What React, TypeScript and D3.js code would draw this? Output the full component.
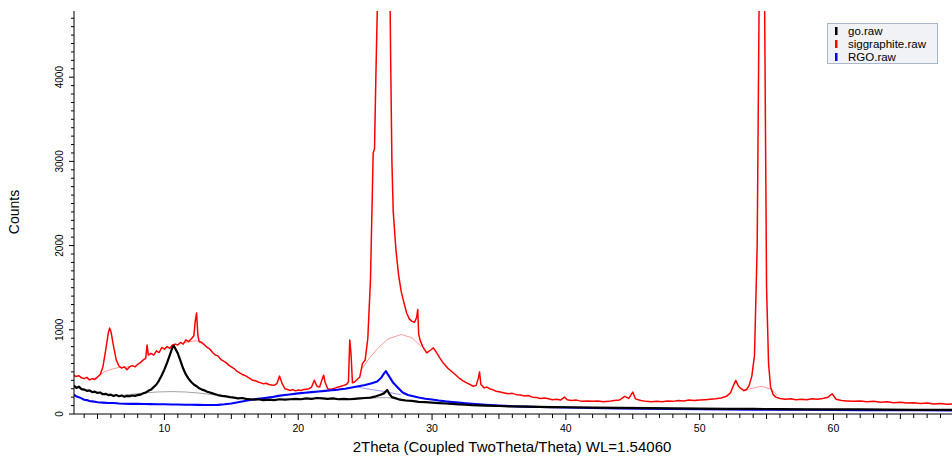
import React from "react";
import * as d3 from "d3";

const W = 952;
const H = 457;

// 2Theta (deg), Counts
const siggraphite: [number, number][] = [
  [3.24, 460], [3.4, 445], [3.6, 455], [3.8, 430], [4.0, 420], [4.2, 435], [4.4, 405], [4.6, 420], [4.8, 410],
  [5.0, 440], [5.2, 470], [5.4, 560], [5.6, 750], [5.8, 960], [5.9, 1020], [6.0, 980], [6.2, 800], [6.4, 640],
  [6.6, 570], [6.8, 545], [7.0, 560], [7.2, 525], [7.4, 560], [7.6, 575], [7.8, 560], [8.0, 590], [8.2, 610],
  [8.4, 640], [8.6, 660], [8.7, 820], [8.8, 700], [9.0, 720], [9.2, 700], [9.4, 750], [9.6, 730], [9.8, 790],
  [10.0, 770], [10.2, 800], [10.4, 780], [10.6, 820], [10.8, 830], [11.0, 820], [11.2, 850], [11.4, 830],
  [11.6, 880], [11.8, 860], [12.0, 890], [12.2, 930], [12.3, 1100], [12.4, 1200], [12.5, 930], [12.6, 860],
  [12.8, 850], [13.0, 820], [13.2, 790], [13.4, 770], [13.6, 730], [13.8, 700], [14.0, 690], [14.2, 650],
  [14.4, 630], [14.6, 610], [14.8, 580], [15.0, 560], [15.2, 540], [15.4, 510], [15.6, 490], [15.8, 470],
  [16.0, 460], [16.2, 440], [16.4, 420], [16.6, 400], [16.8, 395], [17.0, 380], [17.2, 370], [17.4, 360],
  [17.6, 365], [17.8, 350], [18.0, 345], [18.2, 340], [18.4, 360], [18.6, 450], [18.8, 360], [19.0, 300],
  [19.2, 290], [19.4, 280], [19.6, 290], [19.8, 275], [20.0, 285], [20.2, 280], [20.4, 290], [20.6, 295],
  [20.8, 300], [21.0, 320], [21.2, 400], [21.4, 330], [21.6, 320], [21.8, 420], [21.9, 460], [22.0, 380],
  [22.2, 300], [22.4, 290], [22.6, 300], [22.8, 310], [23.0, 320], [23.2, 330], [23.4, 340], [23.6, 350],
  [23.75, 380], [23.85, 880], [23.95, 700], [24.05, 370], [24.2, 380], [24.4, 410], [24.6, 440], [24.8, 600],
  [25.0, 640], [25.2, 900], [25.4, 1600], [25.6, 3100], [25.7, 3150], [25.8, 4000], [26.0, 5500],
  [26.2, 9000], [26.4, 12000], [26.6, 10000], [26.8, 6000], [26.9, 4300], [27.0, 3000], [27.1, 2400],
  [27.3, 1950], [27.5, 1650], [27.7, 1450], [27.9, 1320], [28.1, 1200], [28.3, 1130], [28.5, 1100],
  [28.7, 1090], [28.85, 1150], [28.93, 1240], [29.0, 950], [29.1, 880], [29.3, 800], [29.6, 725],
  [29.9, 760], [30.1, 785], [30.35, 725], [30.6, 660], [30.84, 605], [31.2, 540], [31.6, 487], [32.0, 430],
  [32.34, 390], [32.7, 360], [33.08, 330], [33.3, 340], [33.45, 420], [33.55, 500], [33.65, 350],
  [33.9, 310], [34.1, 320], [34.3, 300], [34.5, 290], [34.8, 270], [35.1, 260], [35.4, 250], [35.7, 240],
  [36.0, 245], [36.3, 230], [36.6, 225], [36.9, 215], [37.2, 220], [37.5, 200], [37.8, 195], [38.1, 185],
  [38.4, 190], [38.7, 180], [39.0, 170], [39.3, 175], [39.6, 165], [39.9, 200], [40.1, 170], [40.4, 160],
  [40.8, 165], [41.2, 150], [41.6, 155], [42.0, 150], [42.4, 155], [42.8, 145], [43.2, 150], [43.6, 160],
  [44.0, 165], [44.4, 210], [44.7, 185], [45.0, 260], [45.2, 180], [45.6, 160], [46.0, 150], [46.4, 145],
  [46.8, 150], [47.2, 145], [47.6, 155], [48.0, 150], [48.4, 160], [48.8, 155], [49.2, 165], [49.6, 160],
  [50.0, 165], [50.4, 170], [50.8, 175], [51.2, 180], [51.6, 190], [52.0, 210], [52.3, 250], [52.5, 330],
  [52.7, 400], [52.9, 330], [53.1, 300], [53.3, 280], [53.5, 290], [53.7, 340], [53.9, 450], [54.1, 700],
  [54.3, 2000], [54.45, 5000], [54.65, 9000], [54.85, 5000], [55.0, 1500], [55.15, 600], [55.3, 320],
  [55.5, 230], [55.7, 200], [56.0, 185], [56.4, 175], [56.8, 180], [57.2, 170], [57.6, 175], [58.0, 170],
  [58.4, 180], [58.8, 175], [59.2, 185], [59.6, 200], [59.9, 240], [60.2, 175], [60.6, 160], [61.0, 155],
  [61.5, 150], [62.0, 155], [62.5, 145], [63.0, 150], [63.5, 140], [64.0, 145], [64.5, 135], [65.0, 140],
  [65.5, 130], [66.0, 135], [66.5, 125], [67.0, 130], [67.5, 120], [68.0, 125], [68.5, 115], [68.86, 120],
];

const goRaw: [number, number][] = [
  [3.24, 340], [3.4, 310], [3.6, 325], [3.8, 295], [4.0, 290], [4.2, 275], [4.4, 280], [4.6, 260], [4.8, 265],
  [5.0, 250], [5.2, 255], [5.4, 235], [5.6, 240], [5.8, 225], [6.0, 230], [6.2, 215], [6.4, 225], [6.6, 210],
  [6.8, 220], [7.0, 205], [7.2, 215], [7.4, 210], [7.6, 220], [7.8, 215], [8.0, 225], [8.2, 230], [8.4, 245],
  [8.6, 255], [8.8, 275], [9.0, 290], [9.2, 320], [9.4, 350], [9.6, 400], [9.8, 460], [10.0, 530], [10.2, 610],
  [10.4, 700], [10.6, 790], [10.7, 810], [10.8, 780], [11.0, 720], [11.2, 630], [11.4, 540], [11.6, 470],
  [11.8, 420], [12.0, 380], [12.2, 350], [12.4, 330], [12.6, 305], [12.8, 290], [13.0, 280], [13.2, 265],
  [13.4, 255], [13.6, 245], [13.8, 235], [14.0, 225], [14.3, 215], [14.6, 210], [14.9, 200], [15.2, 195],
  [15.5, 185], [15.8, 190], [16.1, 180], [16.4, 175], [16.7, 170], [17.0, 175], [17.4, 165], [17.8, 170],
  [18.2, 165], [18.6, 175], [19.0, 170], [19.4, 175], [19.8, 180], [20.2, 175], [20.6, 185], [21.0, 180],
  [21.4, 190], [21.8, 185], [22.2, 180], [22.6, 185], [23.0, 175], [23.4, 180], [23.8, 175], [24.2, 180],
  [24.6, 185], [25.0, 190], [25.4, 195], [25.8, 210], [26.1, 225], [26.4, 245], [26.65, 285], [26.8, 240],
  [27.0, 200], [27.3, 185], [27.6, 170], [28.0, 160], [28.5, 155], [29.0, 145], [29.5, 140], [30.0, 135],
  [30.5, 130], [31.0, 125], [31.5, 120], [32.0, 115], [32.5, 110], [33.0, 105], [34, 100], [35, 95], [36, 90],
  [37, 88], [38, 85], [39, 82], [40, 80], [42, 76], [44, 72], [46, 70], [48, 66], [50, 64], [52, 62], [54, 60],
  [56, 58], [58, 56], [60, 55], [62, 54], [64, 52], [66, 50], [68.86, 48],
];

const rgoRaw: [number, number][] = [
  [3.24, 230], [3.4, 210], [3.6, 200], [3.8, 185], [4.0, 170], [4.2, 165], [4.4, 155], [4.6, 150], [4.8, 145],
  [5.0, 140], [5.4, 135], [5.8, 130], [6.2, 130], [6.6, 125], [7.0, 122], [7.5, 120], [8.0, 120], [8.5, 118],
  [9.0, 117], [9.5, 115], [10, 115], [10.5, 113], [11, 112], [11.5, 110], [12, 110], [12.5, 108], [13, 106],
  [13.5, 106], [14, 108], [14.5, 115], [15, 125], [15.5, 140], [16, 155], [16.5, 170], [17, 180], [17.5, 190],
  [18, 200], [18.5, 215], [19, 225], [19.5, 235], [20, 245], [20.5, 252], [21, 260], [21.5, 268], [22, 275],
  [22.5, 283], [23, 290], [23.5, 300], [24, 315], [24.5, 330], [25, 345], [25.5, 365], [25.9, 385],
  [26.2, 430], [26.4, 480], [26.55, 510], [26.7, 470], [26.9, 420], [27.1, 370], [27.4, 320], [27.8, 255],
  [28.2, 225], [28.6, 210], [29.0, 195], [29.5, 182], [30.0, 172], [30.5, 160], [31.0, 150], [31.5, 142],
  [32.0, 135], [32.5, 128], [33, 122], [34, 110], [35, 100], [36, 92], [37, 88], [38, 84], [40, 78], [42, 72],
  [44, 66], [46, 62], [48, 60], [50, 58], [52, 55], [54, 52], [56, 50], [58, 50], [60, 48], [62, 46], [64, 45],
  [66, 44], [68.86, 42],
];

// fitted background curves (thin)
const sigBg1: [number, number][] = [[4.6, 415], [5.0, 440], [5.5, 500], [6.0, 530], [6.5, 550], [7.0, 555], [7.5, 565]];
const sigBg2: [number, number][] = [[11.5, 850], [12.4, 870], [13.2, 800]];
const sigBg3: [number, number][] = [[24.7, 520], [25.3, 660], [26.0, 790], [26.7, 890], [27.7, 945], [28.5, 905], [29.2, 800]];
const sigBg4: [number, number][] = [[53.2, 270], [53.8, 300], [54.65, 330], [55.4, 290], [55.8, 220]];
const goBg1: [number, number][] = [[6.5, 215], [7.5, 232], [8.5, 250], [9.5, 262], [10.5, 266], [11.5, 262], [12.5, 250], [13.5, 232], [14.5, 210], [15.5, 190]];
const goBg2: [number, number][] = [[24.5, 182], [25.5, 190], [26.6, 195], [27.5, 180], [28.5, 158]];
const rgoBg1: [number, number][] = [[24.4, 320], [25.5, 290], [26.5, 265], [27.7, 228]];

const xLabelTicks = [10, 20, 30, 40, 50, 60];
const yLabelTicks = [0, 1000, 2000, 3000, 4000];
const legendNames = ["go.raw", "siggraphite.raw", "RGO.raw"];
const legendColors = ["#000000", "#ff0000", "#0000ff"];

const left = 74, right = 952, top = 11, bottom = 414;

export default function App() {
  const x = d3.scaleLinear().domain([3.24, 68.86]).range([left, right]);
  const y = d3.scaleLinear().domain([0, 4786]).range([bottom, top]);
  const line = d3.line<[number, number]>().x((d) => x(d[0])).y((d) => y(d[1]));
  const xMinor = d3.range(4, 69, 1);
  const yMinor = d3.range(0, 4701, 100);
  const font = "Arial, 'Liberation Sans', sans-serif";

  return (
    <svg width={W} height={H} style={{ position: "absolute", left: 0, top: 0, background: "#fff" }} fontFamily={font}>
      <defs>
        <clipPath id="plot">
          <rect x={left} y={top} width={right - left} height={bottom - top} />
        </clipPath>
      </defs>
      <g clipPath="url(#plot)" fill="none" strokeLinejoin="round">
        <path d={line(goBg1) || ""} stroke="#8c8c8c" strokeWidth={0.8} />
        <path d={line(goBg2) || ""} stroke="#8c8c8c" strokeWidth={0.8} />
        <path d={line(rgoBg1) || ""} stroke="#8080ff" strokeWidth={0.8} />
        <path d={line(sigBg1) || ""} stroke="#ff8080" strokeWidth={0.8} />
        <path d={line(sigBg2) || ""} stroke="#ff8080" strokeWidth={0.8} />
        <path d={line(sigBg3) || ""} stroke="#ff8080" strokeWidth={0.8} />
        <path d={line(sigBg4) || ""} stroke="#ff8080" strokeWidth={0.8} />
        <path d={line(siggraphite) || ""} stroke="#ff0000" strokeWidth={1.5} />
        <path d={line(rgoRaw) || ""} stroke="#0000ff" strokeWidth={2.1} />
        <path d={line(goRaw) || ""} stroke="#000000" strokeWidth={2.2} />
      </g>
      {/* axes */}
      <line x1={left} x2={left} y1={top} y2={bottom} stroke="#000" strokeWidth={1} />
      <line x1={left} x2={right} y1={bottom} y2={bottom} stroke="#000" strokeWidth={1} />
      {yMinor.map((v) => (
        <line key={"ym" + v} x1={left - (v % 1000 === 0 ? 5 : 3)} x2={left} y1={y(v)} y2={y(v)} stroke="#000" strokeWidth={1} />
      ))}
      {yLabelTicks.map((v) => (
        <text key={"yl" + v} transform={`translate(63,${y(v)}) rotate(-90)`} textAnchor="middle" fontSize={10} fill="#000">
          {v}
        </text>
      ))}
      {xMinor.map((v) => (
        <line key={"xm" + v} x1={x(v)} x2={x(v)} y1={bottom} y2={bottom + (v % 10 === 0 ? 6 : v % 5 === 0 ? 5 : 4)} stroke="#000" strokeWidth={1} />
      ))}
      {xLabelTicks.map((v) => (
        <text key={"xl" + v} x={x(v)} y={432} textAnchor="middle" fontSize={10.5} fill="#000">
          {v}
        </text>
      ))}
      <text x={512} y={452} textAnchor="middle" fontSize={15} fill="#000">
        2Theta (Coupled TwoTheta/Theta) WL=1.54060
      </text>
      <text transform="translate(19,212) rotate(-90)" textAnchor="middle" fontSize={14} fill="#000">
        Counts
      </text>
      {/* legend */}
      <rect x={827.5} y={23.5} width={110} height={40} fill="#f1f2f5" stroke="#a9b7cb" strokeWidth={1} />
      {legendNames.map((n, i) => (
        <g key={n}>
          <rect x={835} y={27 + i * 13} width={2.5} height={8} fill={legendColors[i]} />
          <text x={848} y={35 + i * 13} fontSize={11.5} fill="#000">
            {n}
          </text>
        </g>
      ))}
    </svg>
  );
}
